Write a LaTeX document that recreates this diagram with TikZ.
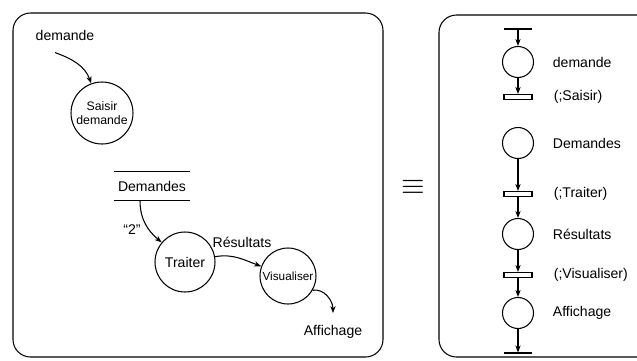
\documentclass[tikz,border=0pt]{standalone}
\usepackage{fontspec}
\setmainfont{Liberation Sans}
\usetikzlibrary{arrows.meta,positioning}
\begin{document}
\begin{tikzpicture}[x=0.02cm,y=-0.02cm,>={Stealth[length=4pt,width=3pt]},
 font=\fontsize{8}{9.6}\selectfont,line width=0.6pt,
 panel/.style={draw,rounded corners=0.35cm},
 proc/.style={draw,circle,minimum size=1.2cm,inner sep=0pt,align=center},
 place/.style={draw,circle,minimum size=0.62cm,inner sep=0pt},
 trans/.style={draw,fill=white,minimum width=0.56cm,minimum height=0.1cm,inner sep=0pt},
 bar/.style={draw,minimum width=0.56cm,minimum height=0pt,inner sep=0pt},
 sm/.style={font=\fontsize{7}{8}\selectfont}]
\useasboundingbox (0,0) rectangle (637,360);
\draw[panel] (13,13) rectangle (383,357);
\draw[panel] (637,15) -| (439,357) -- (637,357);
\node (dm) at (65,35) {demande};
\node[proc,minimum size=1.24cm,sm] (sd) at (102,113) {Saisir\\demande};
\node[minimum width=1.5cm,minimum height=0.56cm,inner sep=0pt] (st) at (152,186) {Demandes};
\draw (st.north west) -- (st.north east) (st.south west) -- (st.south east);
\node[proc] (tr) at (185,262) {Traiter};
\node[proc,minimum size=1.12cm,font=\fontsize{6.7}{8}\selectfont] (vi) at (288,276) {Visualiser};
\node (af) at (333,332) {Affichage};
\node (n2) at (132,230) {``2''};
\node (rs) at (242,242) {Résultats};
\draw[->] ([xshift=-0.2cm,yshift=-0.12cm]dm.south) to[out=-20,in=110] (sd);
\draw[->] ([xshift=-0.24cm]st.south) to[out=-90,in=140] (tr);
\draw[->] (tr.10) to[out=10,in=160] (vi);
\draw[->] (vi.-30) to[out=10,in=90] ([yshift=0.12cm]af.north);
\node (eq) at (413,187) {\fontsize{17}{20}\selectfont$\equiv$};
\node[bar] (b0) at (518,29) {};
\node[place] (p1) at (518,62) {};
\node[trans] (t1) at (518,97) {};
\node[place] (p2) at (518,143) {};
\node[trans] (t2) at (518,194) {};
\node[place] (p3) at (518,234) {};
\node[trans] (t3) at (518,275) {};
\node[place] (p4) at (518,313) {};
\node[bar] (b1) at (518,353) {};
\node[right=0.25cm of p1] (l1) {demande};
\node[right=0.3cm of t1] (l2) {(;Saisir)};
\node[right=0.25cm of p2] (l3) {Demandes};
\node[right=0.3cm of t2] (l4) {(;Traiter)};
\node[right=0.25cm of p3] (l5) {Résultats};
\node[right=0.3cm of t3] (l6) {(;Visualiser)};
\node[right=0.25cm of p4] (l7) {Affichage};
\draw[->] (b0) -- (p1);
\draw[->] (p1) -- (t1);
\draw[->] (p2) -- (t2);
\draw[->] (t2) -- (p3);
\draw[->] (p3) -- (t3);
\draw[->] (t3) -- (p4);
\draw[->] (p4) -- (b1);
\end{tikzpicture}
\end{document}
